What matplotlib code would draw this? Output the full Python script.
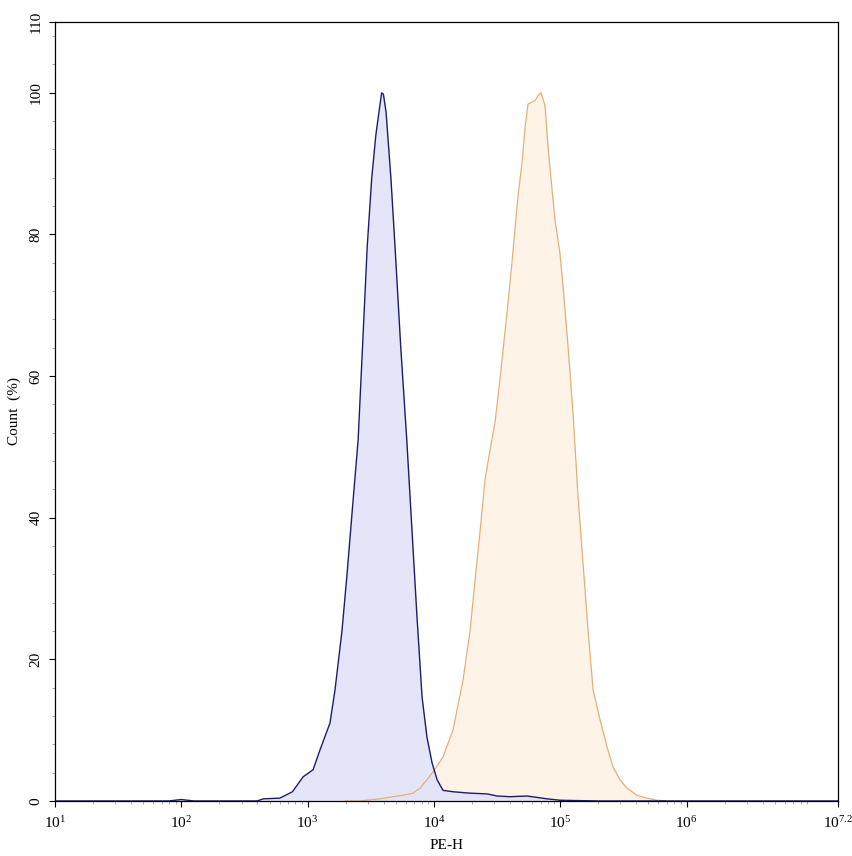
import numpy as np
import matplotlib
matplotlib.use("Agg")
import matplotlib.pyplot as plt
from matplotlib.ticker import FixedLocator

plt.rcParams.update({"font.family": "Liberation Serif", "mathtext.default": "regular",
                     "font.size": 11})

# log10(PE-H) positions and Count (%)
blue_log = [1.0, 1.9, 2.0, 2.1, 2.6, 2.65, 2.78, 2.88, 2.964, 3.043, 3.098, 3.177, 3.217,
            3.272, 3.312, 3.352, 3.400, 3.435, 3.472, 3.507, 3.540, 3.565, 3.586, 3.600,
            3.621, 3.660, 3.692, 3.737, 3.785, 3.827, 3.866, 3.906, 3.945,
            3.985, 4.025, 4.072, 4.151, 4.286, 4.420, 4.500, 4.603, 4.737, 4.896, 4.998,
            5.3, 7.2]
blue_cnt = [0.0, 0.0, 0.2, 0.0, 0.0, 0.3, 0.4, 1.3, 3.4, 4.4, 7.2, 11.0, 15.7,
            24.0, 32.0, 40.7, 51.0, 64.2, 78.3, 87.8, 94.0, 97.3, 100.0, 99.8,
            97.3, 87.8, 78.3, 64.2, 51.0, 38.0, 26.0, 14.7, 9.0,
            5.4, 3.0, 1.5, 1.3, 1.1, 1.0, 0.7, 0.6, 0.7, 0.3, 0.1,
            0.0, 0.0]

orange_log = [3.3, 3.415, 3.573, 3.676, 3.755, 3.835, 3.890, 3.945, 3.993, 4.072, 4.151,
              4.230, 4.286, 4.325, 4.365, 4.405, 4.444, 4.484, 4.523, 4.579, 4.618, 4.642,
              4.666, 4.698, 4.721, 4.745, 4.777, 4.800, 4.824, 4.848, 4.880, 4.903, 4.935,
              4.959, 4.998, 5.022, 5.062, 5.101, 5.141, 5.180, 5.220, 5.260, 5.315, 5.371,
              5.418, 5.473, 5.529, 5.608, 5.687, 5.766, 5.846]
orange_cnt = [0.0, 0.0, 0.3, 0.6, 0.8, 1.1, 1.8, 3.0, 4.1, 6.2, 10.0,
              17.0, 24.0, 31.0, 38.0, 45.4, 49.5, 53.5, 59.5, 69.0, 76.0, 80.8,
              85.4, 90.2, 95.0, 98.4, 98.7, 98.9, 99.6, 100.0, 98.2, 92.5, 86.4,
              82.0, 77.3, 72.7, 64.2, 54.9, 43.0, 33.7, 24.2, 15.7, 11.5, 7.6,
              4.8, 3.0, 1.8, 0.8, 0.4, 0.1, 0.0]

xmajor_log = [1, 2, 3, 4, 5, 6, 7.2]
xmajor_lbl = ["$10^{1}$", "$10^{2}$", "$10^{3}$", "$10^{4}$", "$10^{5}$", "$10^{6}$", "$10^{7.2}$"]
ymajor = [0, 20, 40, 60, 80, 100, 110]

fig = plt.figure(figsize=(8.53, 8.56), dpi=100)
ax = fig.add_axes([0.0645, 0.0643, 0.918, 0.910])

bx = 10 ** np.array(blue_log)
ox = 10 ** np.array(orange_log)
ax.fill_between(ox, orange_cnt, color="#fdf3e6", lw=0)
ax.fill_between(bx, blue_cnt, color="#e3e3fa", alpha=0.9, lw=0)
ax.plot(ox, orange_cnt, color="#e2b07c", lw=0.9)
ax.plot(bx, blue_cnt, color="#1c1c6b", lw=1.0)

ax.set_xscale("log")
ax.set_xlim(10, 10 ** 7.2)
ax.set_ylim(0, 110)
ax.set_xticks([10 ** v for v in xmajor_log])
ax.set_xticklabels(xmajor_lbl)
minor = [m * 10 ** d for d in range(1, 8) for m in range(2, 10) if m * 10 ** d < 10 ** 7.2]
ax.xaxis.set_minor_locator(FixedLocator(minor))
ax.set_yticks(ymajor)
ax.set_yticklabels([str(v) for v in ymajor], rotation=90, va="center")
ax.yaxis.set_minor_locator(FixedLocator([v for v in range(4, 110, 4) if v % 20]))
ax.tick_params(which="major", length=4, width=0.8, color="black", pad=6)
ax.tick_params(which="minor", length=2.5, width=0.6, color="#999999")
ax.tick_params(axis="y", which="major", pad=5)
for s in ax.spines.values():
    s.set_linewidth(0.9)

ax.set_xlabel("PE-H", fontsize=11, labelpad=6)
ax.set_ylabel("Count  (%)", fontsize=11)
ax.yaxis.set_label_coords(-0.043, 0.5)

fig.savefig("out.png", dpi=100)
